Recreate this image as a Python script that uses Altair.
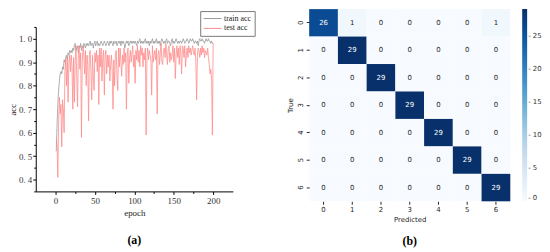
import altair as alt
import pandas as pd

# ---------------- data ----------------
epochs = list(range(1, 201))

train_acc = [
    0.52, 0.63, 0.72, 0.78, 0.82, 0.85, 0.86, 0.85, 0.88, 0.87,
    0.91, 0.90, 0.92, 0.93, 0.91, 0.94, 0.93, 0.95, 0.94, 0.95,
    0.94, 0.96, 0.95, 0.97, 0.98, 0.95, 0.96, 0.97, 0.94, 0.97,
    0.96, 0.98, 0.95, 0.97, 0.96, 0.98, 0.97, 0.96, 0.98, 0.97,
    0.98, 0.97, 0.98, 0.99, 0.97, 0.98, 0.98, 0.96, 0.98, 0.99,
    0.97, 0.98, 0.99, 0.97, 0.98, 0.97, 0.98, 0.99, 0.98, 0.97,
    0.98, 0.99, 0.98, 0.97, 0.98, 0.99, 0.98, 0.97, 0.99, 0.98,
    0.99, 0.98, 0.97, 0.99, 0.98, 0.98, 0.99, 0.97, 0.98, 0.99,
    0.98, 0.99, 0.97, 0.99, 0.98, 0.99, 0.98, 0.96, 0.98, 0.99,
    0.98, 0.99, 0.97, 0.98, 0.99, 0.98, 0.99, 0.98, 0.99, 0.98,
    0.99, 0.98, 0.97, 0.99, 0.98, 0.99, 1.00, 0.98, 0.99, 0.98,
    0.99, 0.98, 0.99, 1.00, 0.98, 0.99, 0.98, 0.99, 0.97, 0.99,
    0.98, 0.99, 1.00, 0.98, 0.99, 0.98, 0.99, 1.00, 0.98, 0.99,
    0.98, 0.99, 0.97, 0.99, 1.00, 0.99, 0.98, 0.99, 0.98, 0.99,
    1.00, 0.98, 0.99, 0.99, 0.98, 0.97, 0.99, 1.00, 0.98, 0.99,
    0.98, 0.99, 1.00, 0.99, 0.98, 0.99, 0.98, 0.99, 0.99, 0.98,
    0.99, 1.00, 0.99, 0.98, 0.99, 0.99, 1.00, 0.99, 0.98, 0.99,
    1.00, 0.99, 0.99, 1.00, 0.99, 0.98, 0.99, 0.99, 0.98, 0.99,
    0.97, 0.99, 1.00, 0.99, 0.99, 1.00, 0.99, 0.99, 0.98, 0.99,
    1.00, 0.99, 0.99, 1.00, 0.99, 0.99, 0.98, 0.99, 0.98, 0.98,
]

test_acc = [
    0.58, 0.55, 0.41, 0.64, 0.75, 0.68, 0.72, 0.54, 0.74, 0.70,
    0.60, 0.86, 0.91, 0.80, 0.92, 0.73, 0.90, 0.93, 0.86, 0.93,
    0.88, 0.70, 0.92, 0.73, 0.90, 0.97, 0.84, 0.71, 0.93, 0.97,
    0.87, 0.94, 0.58, 0.90, 0.97, 0.93, 0.85, 0.95, 0.80, 0.93,
    0.89, 0.65, 0.93, 0.95, 0.86, 0.74, 0.93, 0.84, 0.78, 0.94,
    0.90, 0.95, 0.86, 0.93, 0.72, 0.96, 0.88, 0.96, 0.82, 0.92,
    0.95, 0.76, 0.93, 0.95, 0.85, 0.93, 0.88, 0.93, 0.82, 0.89,
    0.93, 0.86, 0.70, 0.91, 0.80, 0.93, 0.95, 0.84, 0.78, 0.96,
    0.88, 0.96, 0.90, 0.84, 0.93, 0.89, 0.96, 0.90, 0.94, 0.70,
    0.93, 0.96, 0.81, 0.92, 0.95, 0.90, 0.94, 0.97, 0.88, 0.93,
    0.81, 0.95, 0.91, 0.97, 0.90, 0.95, 0.88, 0.97, 0.93, 0.96,
    0.88, 0.94, 0.91, 0.96, 0.59, 0.92, 0.96, 0.91, 0.95, 0.93,
    0.91, 0.76, 0.97, 0.90, 0.93, 0.95, 0.91, 0.96, 0.68, 0.93,
    0.95, 0.89, 0.94, 0.98, 0.90, 0.89, 0.95, 0.96, 0.92, 0.98,
    0.93, 0.89, 0.96, 0.97, 0.90, 0.94, 0.91, 0.93, 0.97, 0.90,
    0.96, 0.83, 0.93, 0.97, 0.92, 0.96, 0.89, 0.97, 0.94, 0.85,
    0.97, 0.96, 0.92, 0.97, 0.88, 0.93, 0.96, 0.92, 0.97, 0.94,
    0.96, 0.93, 0.95, 0.97, 0.94, 0.93, 0.96, 0.90, 0.74, 0.93,
    0.96, 0.95, 0.92, 0.96, 0.93, 0.97, 0.94, 0.96, 0.92, 0.95,
    0.94, 0.93, 0.96, 0.92, 0.89, 0.85, 0.87, 0.83, 0.59, 0.98,
]

series_names = ["train acc", "test acc"]
series_colors = ["#9a9a9a", "#ff8c8c"]

x_major = [0, 50, 100, 150, 200]
x_minor = [25, 75, 125, 175]
y_major = [0.4, 0.5, 0.6, 0.7, 0.8, 0.9, 1.0]
y_minor = [0.35, 0.45, 0.55, 0.65, 0.75, 0.85, 0.95, 1.05]

classes = ["0", "1", "2", "3", "4", "5", "6"]
conf_matrix = [
    [26, 1, 0, 0, 0, 0, 1],
    [0, 29, 0, 0, 0, 0, 0],
    [0, 0, 29, 0, 0, 0, 0],
    [0, 0, 0, 29, 0, 0, 0],
    [0, 0, 0, 0, 29, 0, 0],
    [0, 0, 0, 0, 0, 29, 0],
    [0, 0, 0, 0, 0, 0, 29],
]
blues = ["#f7fbff", "#deebf7", "#c6dbef", "#9ecae1", "#6baed6",
         "#4292c6", "#2171b5", "#08519c", "#08306b"]
cbar_values = [0, 5, 10, 15, 20, 25]

# ---------------- tables ----------------
rows = []
for e, tr in zip(epochs, train_acc):
    rows.append({"epoch": e, "acc": tr, "series": "train acc"})
for e, te in zip(epochs, test_acc):
    rows.append({"epoch": e, "acc": te, "series": "test acc"})
df_lines = pd.DataFrame(rows)

cm_rows = []
for i, t in enumerate(classes):
    for j, p in enumerate(classes):
        cm_rows.append({"true": t, "pred": p, "n": conf_matrix[i][j]})
df_cm = pd.DataFrame(cm_rows)

vmax = max(max(r) for r in conf_matrix)
stops = [vmax * k / (len(blues) - 1) for k in range(len(blues))]

serif = "Liberation Serif"
sans = "DejaVu Sans"

# ---------------- panel (a) ----------------
xs = alt.Scale(domain=[-25, 225], nice=False, zero=False)
ys = alt.Scale(domain=[0.35, 1.05], nice=False, zero=False)

base = alt.Chart(df_lines)
lines = base.mark_line(strokeWidth=0.8).encode(
    x=alt.X("epoch:Q", scale=xs, axis=alt.Axis(
        values=x_major, title="epoch", orient="bottom", grid=False,
        labelFont=serif, labelFontSize=9, labelColor="#333333", labelPadding=2,
        titleFont=serif, titleFontSize=9, titleFontWeight="normal", titleColor="#222222",
        titlePadding=3, tickSize=3, tickColor="#000000", domainColor="#000000")),
    y=alt.Y("acc:Q", scale=ys, axis=alt.Axis(
        values=y_major, title="acc", orient="left", grid=False,
        labelExpr="replace(format(datum.value, '.1f'), '.', '. ')",
        labelFont=serif, labelFontSize=9, labelColor="#333333", labelPadding=1,
        titleFont=serif, titleFontSize=9, titleFontWeight="normal", titleColor="#222222",
        titlePadding=1, tickSize=3, tickColor="#000000", domainColor="#000000")),
    color=alt.Color("series:N", sort=series_names,
                    scale=alt.Scale(domain=series_names, range=series_colors),
                    legend=alt.Legend(
                        orient="none", legendX=166, legendY=-16, title=None,
                        direction="vertical",
                        strokeColor="#7a7a7a", fillColor="white", padding=3,
                        symbolType="M-2.25,0L2.25,0", symbolSize=64,
                        symbolStrokeWidth=1, symbolOffset=5,
                        labelFont=serif, labelFontSize=8, labelColor="#222222",
                        rowPadding=1, labelOffset=7)),
)
minor = base.mark_point(opacity=0).encode(
    x=alt.X("epoch:Q", scale=xs, axis=alt.Axis(
        values=x_minor, labels=False, title=None, orient="bottom", grid=False,
        domain=False, tickSize=2, tickColor="#000000")),
    y=alt.Y("acc:Q", scale=ys, axis=alt.Axis(
        values=y_minor, labels=False, title=None, orient="left", grid=False,
        domain=False, tickSize=2, tickColor="#000000")),
)
panel_a = alt.layer(lines, minor).resolve_axis(x="independent", y="independent").properties(
    width=199, height=166,
    title=alt.TitleParams("(a)", orient="bottom", font=serif, fontSize=12,
                          fontWeight="bold", color="#000000", offset=18),
)
spacer = alt.Chart(pd.DataFrame({"v": [0]})).mark_point(
    opacity=0, size=1, strokeWidth=0
).encode(x=alt.value(50), y=alt.value(0.5)).properties(width=199, height=1)
col_a = alt.vconcat(spacer, panel_a, spacing=0).resolve_scale(
    color="independent").resolve_legend(color="independent")

# ---------------- panel (b) ----------------
hm = alt.Chart(df_cm).encode(
    x=alt.X("pred:O", sort=classes, scale=alt.Scale(paddingInner=0, paddingOuter=0),
            axis=alt.Axis(title="Predicted", labelAngle=0, domain=False, tickSize=3,
                          labelFont=sans, labelFontSize=7, labelColor="#262626",
                          titleFont=sans, titleFontSize=7, titleFontWeight="normal",
                          titleColor="#262626", titlePadding=3, labelPadding=1,
                          tickColor="#262626")),
    y=alt.Y("true:O", sort=classes, scale=alt.Scale(paddingInner=0, paddingOuter=0),
            axis=alt.Axis(title="True", labelAngle=-90, domain=False, tickSize=3,
                          labelFont=sans, labelFontSize=7, labelColor="#262626",
                          titleFont=sans, titleFontSize=7, titleFontWeight="normal",
                          titleColor="#262626", titlePadding=3, labelPadding=3,
                          tickColor="#262626")),
)
rect = hm.mark_rect().encode(
    color=alt.Color("n:Q", scale=alt.Scale(domain=stops, range=blues),
                    legend=alt.Legend(
                        title=None, orient="right", offset=12, direction="vertical",
                        gradientLength=194, gradientThickness=5, gradientStrokeWidth=0,
                        values=cbar_values, labelFont=sans, labelFontSize=7,
                        labelColor="#333333", labelOffset=1,
                        labelExpr="'- ' + datum.label")),
)
txt = hm.mark_text(font=sans, fontSize=7).encode(
    text="n:Q",
    color=alt.condition(alt.datum.n > 15, alt.value("white"), alt.value("#262626")),
)
panel_b = alt.layer(rect, txt).properties(
    width=203, height=194,
    title=alt.TitleParams("(b)", orient="bottom", font=serif, fontSize=12,
                          fontWeight="bold", color="#000000", offset=14),
)

chart = alt.hconcat(col_a, panel_b, spacing=31).resolve_scale(
    color="independent").resolve_legend(color="independent").properties(
    padding=0
).configure_view(strokeWidth=0)

chart.save("out.html", embed_options={"renderer": "svg", "actions": False})
